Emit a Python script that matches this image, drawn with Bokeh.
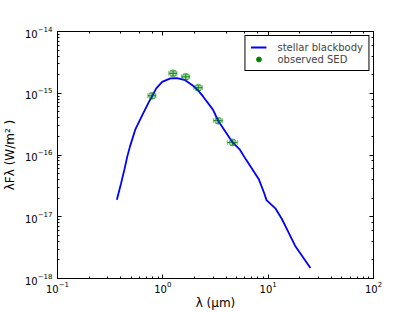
import numpy as np
from bokeh.plotting import figure
from bokeh.models import (ColumnDataSource, Whisker, TeeHead, Legend, LegendItem,
                          LogAxis)
from bokeh.embed import file_html
from bokeh.resources import INLINE

# ---- data ----
bb_wavelength = [0.366, 0.400, 0.432, 0.460, 0.488, 0.547, 0.640, 0.740, 0.794, 0.866, 0.985,
                 1.18, 1.36, 1.63, 1.95, 2.17, 2.42, 3.0, 3.34, 4.6, 5.39, 6.14,
                 8.18, 9.12, 9.64, 11.7, 13.5, 15.6, 18.0, 25.2]
bb_flux = [1.88e-17, 3.4e-17, 5.85e-17, 9.5e-17, 1.38e-16, 2.57e-16, 4.48e-16, 7.31e-16, 9.04e-16,
           1.20e-15, 1.53e-15, 1.74e-15, 1.76e-15, 1.63e-15, 1.31e-15, 1.10e-15,
           8.8e-16, 5.38e-16, 3.62e-16, 1.6e-16, 1.22e-16, 8.5e-17,
           4.0e-17, 2.47e-17, 1.86e-17, 1.37e-17, 9.2e-18, 5.6e-18, 3.4e-18, 1.48e-18]

obs_wavelength = [0.79, 1.25, 1.65, 2.17, 3.35, 4.6]
obs_flux = [9.1e-16, 2.1e-15, 1.85e-15, 1.23e-15, 3.6e-16, 1.6e-16]
obs_wl_err = [0.07, 0.11, 0.15, 0.20, 0.33, 0.50]
obs_flux_err = [0.9e-16, 2.0e-16, 1.8e-16, 1.2e-16, 0.35e-16, 0.16e-16]

legend_labels = ["stellar blackbody", "observed SED"]
x_title = "λ (μm)"
y_title = "λFλ (W/m² )"

FONT = "DejaVu Sans"
GREEN = "#008000"

p = figure(width=415, height=312, x_axis_type="log", y_axis_type="log",
           x_range=(0.1, 100), y_range=(1e-18, 1e-14),
           output_backend="svg", toolbar_location=None,
           min_border_left=52, min_border_right=42, min_border_top=31,
           min_border_bottom=32)
p.background_fill_color = "white"
p.border_fill_color = "white"
p.outline_line_color = "black"
p.outline_line_width = 1
p.xgrid.visible = False
p.ygrid.visible = False

bb = p.line(bb_wavelength, bb_flux, line_color="#0000ff", line_width=1.8)

wl = np.array(obs_wavelength)
fl = np.array(obs_flux)
src = ColumnDataSource(dict(
    x=wl, y=fl,
    x_lo=wl - np.array(obs_wl_err), x_hi=wl + np.array(obs_wl_err),
    y_lo=fl - np.array(obs_flux_err), y_hi=fl + np.array(obs_flux_err)))

p.scatter("x", "y", source=src, size=7, fill_color=GREEN, fill_alpha=0.3,
          line_color=GREEN, line_alpha=0.45, line_width=1)
for (base, lo, hi, dim) in [("y", "x_lo", "x_hi", "width"), ("x", "y_lo", "y_hi", "height")]:
    w = Whisker(source=src, base=base, lower=lo, upper=hi, dimension=dim,
                line_color=GREEN, line_width=1, line_alpha=0.9,
                upper_head=TeeHead(size=5, line_color=GREEN, line_alpha=0.5, line_width=1),
                lower_head=TeeHead(size=5, line_color=GREEN, line_alpha=0.5, line_width=1))
    p.add_layout(w)

# legend proxy (solid dot, hidden in the frame)
proxy = p.scatter("x", "y", source=src, size=5.5, fill_color=GREEN, line_color=GREEN)
proxy.visible = False

legend = Legend(items=[LegendItem(label=legend_labels[0], renderers=[bb]),
                       LegendItem(label=legend_labels[1], renderers=[proxy])],
                location="top_right", border_line_color="black",
                border_line_width=1, border_line_alpha=1,
                background_fill_color="white", background_fill_alpha=1,
                label_text_font=FONT, label_text_font_size="10px",
                glyph_width=16, glyph_height=12, label_height=12,
                label_standoff=11, padding=5, spacing=0, margin=4)
p.add_layout(legend)

# axes styling
for ax in [p.xaxis[0], p.yaxis[0]]:
    ax.major_tick_in = 4
    ax.major_tick_out = 0
    ax.minor_tick_in = 2
    ax.minor_tick_out = 0
    ax.axis_line_color = "black"
    ax.major_label_text_font = FONT
    ax.major_label_text_font_size = "10px"
    ax.major_label_text_color = "black"
    ax.axis_label_text_font = FONT
    ax.axis_label_text_font_size = "12px"
    ax.axis_label_text_font_style = "normal"
    ax.axis_label_text_color = "black"

p.xaxis[0].axis_label = x_title
p.xaxis[0].major_label_standoff = 2
p.xaxis[0].axis_label_standoff = 0
p.yaxis[0].axis_label = y_title
p.yaxis[0].major_label_standoff = 5
p.yaxis[0].axis_label_standoff = 5

top = LogAxis(major_label_text_font_size="6px", major_label_text_color=None,
              major_tick_in=4, major_tick_out=0,
              minor_tick_in=2, minor_tick_out=0, major_label_standoff=0)
right = LogAxis(major_label_text_font_size="6px", major_label_text_color=None,
                major_tick_in=4, major_tick_out=0,
                minor_tick_in=2, minor_tick_out=0, major_label_standoff=0)
p.add_layout(top, "above")
p.add_layout(right, "right")

open("out.html", "w").write(file_html(p, INLINE))
